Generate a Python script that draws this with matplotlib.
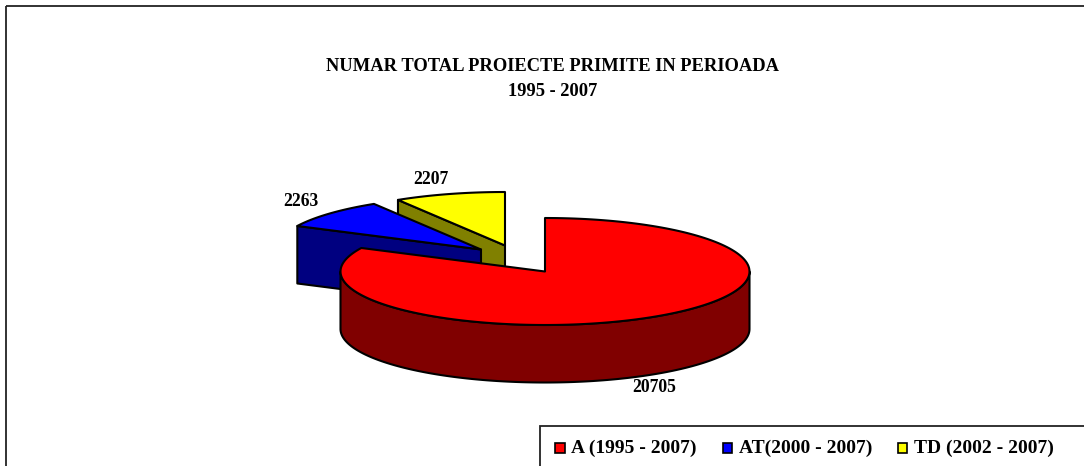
import numpy as np
import matplotlib
matplotlib.use("Agg")
import matplotlib.pyplot as plt
from matplotlib.patches import Polygon, Rectangle

title_lines = ["NUMAR TOTAL PROIECTE PRIMITE IN PERIOADA", "1995 - 2007"]
names = ["A (1995 - 2007)", "AT(2000 - 2007)", "TD (2002 - 2007)"]
values = [20705, 2263, 2207]
top_colors = ["#FF0000", "#0000FF", "#FFFF00"]
side_colors = ["#800000", "#000080", "#808000"]

# pie geometry in pixels of the picture
apex = [(545, 271.5), (481, 249.5), (505, 245.5)]
rx = 204.5
ry = 53.5
depth = 57.5

plt.rcParams["font.family"] = ["Liberation Serif", "DejaVu Serif"]
plt.rcParams["font.weight"] = "bold"

fig = plt.figure(figsize=(10.84, 4.66), dpi=100)
ax = fig.add_axes([0, 0, 1, 1])
ax.set_xlim(0, 1084)
ax.set_ylim(466, 0)
ax.axis("off")


def arc(center, a0, a1):
    # angles in degrees, clockwise from 12 o'clock
    t = np.radians(np.linspace(a0, a1, 180))
    return np.column_stack([center[0] + rx * np.sin(t), center[1] - ry * np.cos(t)])


def add_poly(pts, color, z):
    ax.add_patch(Polygon(pts, closed=True, facecolor=color, edgecolor="black",
                         linewidth=1.5, joinstyle="round", zorder=z))


angles = np.concatenate([[0], np.cumsum(values) / np.sum(values) * 360])

# outer frame and legend box run off the picture on the right and bottom
ax.add_patch(Rectangle((5.5, 5.5), 1200, 600, fill=False, edgecolor="#222222", linewidth=1.3, zorder=1))

# yellow and blue pieces sit behind the big red one
z = 2
for i in [2, 1]:
    c = np.array(apex[i])
    start = c + np.array([rx * np.sin(np.radians(angles[i])), -ry * np.cos(np.radians(angles[i]))])
    side = np.array([start, c, c + [0, depth], start + [0, depth]])
    add_poly(side, side_colors[i], z)
    add_poly(np.vstack([[c], arc(c, angles[i], angles[i + 1])]), top_colors[i], z + 1)
    z += 2

c = np.array(apex[0])
front = arc(c, 90, 270)
add_poly(np.vstack([front, (front + [0, depth])[::-1]]), side_colors[0], z)
add_poly(np.vstack([[c], arc(c, angles[0], angles[1])]), top_colors[0], z + 1)

# labels
ax.text(553, 66.5, title_lines[0], ha="center", va="center", fontsize=13.3, zorder=20)
ax.text(553, 91, title_lines[1], ha="center", va="center", fontsize=13.3, zorder=20)
label_pos = [(654, 388), (301, 201.5), (431, 179)]
for v, p in zip(values, label_pos):
    ax.text(p[0], p[1], str(v), ha="center", va="center", fontsize=12.7, zorder=20)

# legend
ax.add_patch(Rectangle((540, 426), 700, 100, facecolor="white", edgecolor="#222222", linewidth=1.3, zorder=21))
marker_x = [555, 722.5, 897.5]
text_x = [571, 739, 914]
for name, col, mx, tx in zip(names, top_colors, marker_x, text_x):
    ax.add_patch(Rectangle((mx, 442.5), 9.5, 10, facecolor=col, edgecolor="black", linewidth=1.2, zorder=22))
    ax.text(tx, 448, name, ha="left", va="center", fontsize=14, zorder=22)

fig.savefig("out.png", dpi=100)
